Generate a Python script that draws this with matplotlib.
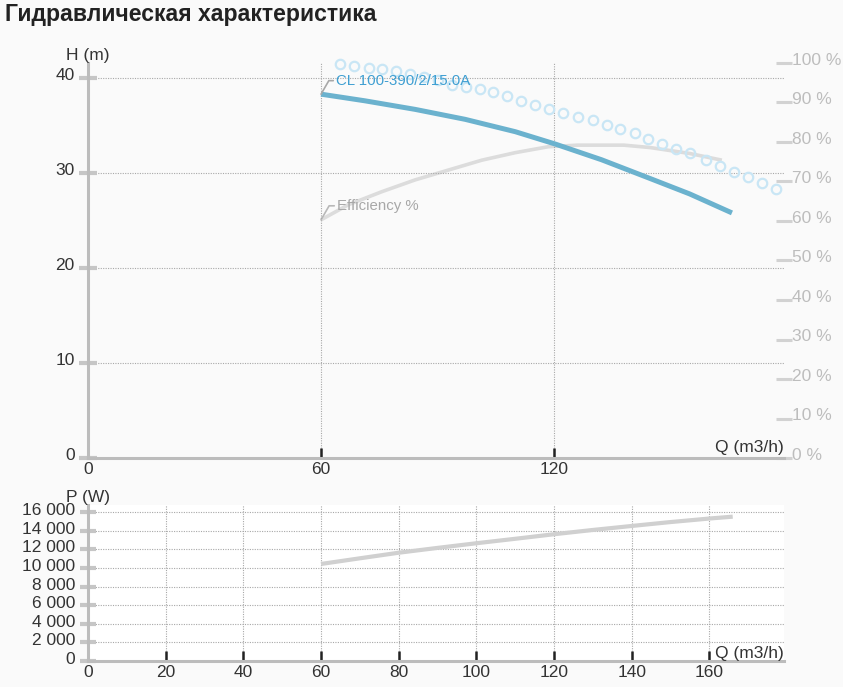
import matplotlib
matplotlib.use("Agg")
import matplotlib.pyplot as plt
from matplotlib.ticker import FixedLocator, FuncFormatter
from matplotlib.transforms import offset_copy

plt.rcParams['font.family'] = ['Liberation Sans', 'DejaVu Sans']

# ---------------- data ----------------
title = "Гидравлическая характеристика"
pump_name = "CL 100-390/2/15.0A"
eff_name = "Efficiency %"

q_head = [60, 71.3, 84.2, 97.1, 110, 120.3, 132.2, 143.6, 154.9, 165.8]
head = [38.3, 37.6, 36.7, 35.65, 34.35, 33.05, 31.4, 29.6, 27.8, 25.8]

q_eff = [60, 67, 75.6, 84.2, 92.8, 101.4, 110, 118.5, 126, 138, 144.7, 154.9, 163.2]
eff = [60.3, 64.1, 67.4, 70.4, 72.9, 75.4, 77.3, 78.8, 79.2, 79.2, 78.6, 77.1, 75.4]

q_circ = [64.9, 68.5, 72.3, 75.8, 79.3, 82.9, 86.5, 90.1, 93.7, 97.3, 101.0, 104.4,
          108.0, 111.6, 115.2, 118.8, 122.4, 126.1, 129.9, 133.6, 137.1, 140.8,
          144.3, 147.9, 151.5, 155.1, 159.1, 162.7, 166.3, 169.9, 173.5, 177.1]
h_circ = [41.47, 41.26, 41.05, 40.92, 40.71, 40.44, 40.11, 39.74, 39.29, 39.08,
          38.84, 38.49, 38.13, 37.54, 37.17, 36.76, 36.33, 35.94, 35.56, 35.09,
          34.6, 34.25, 33.55, 33.04, 32.56, 32.14, 31.36, 30.76, 30.08, 29.59,
          28.99, 28.29]

q_pow = [60, 70, 80, 90, 100, 110, 120, 130, 140, 150, 160, 166]
power = [10440, 11050, 11650, 12170, 12670, 13150, 13640, 14100, 14530, 14950, 15330, 15530]

h_ticks = [0, 10, 20, 30, 40]
q_ticks_top = [0, 60, 120]
pct_ticks = [0, 10, 20, 30, 40, 50, 60, 70, 80, 90, 100]
p_ticks = [0, 2000, 4000, 6000, 8000, 10000, 12000, 14000, 16000]
q_ticks_bot = [0, 20, 40, 60, 80, 100, 120, 140, 160]

# ---------------- layout ----------------
W, H = 843, 687
fig = plt.figure(figsize=(W / 100, H / 100), dpi=100, facecolor='#fafafa')


def rect(x0, y0, x1, y1):
    return [x0 / W, 1 - y1 / H, (x1 - x0) / W, (y1 - y0) / H]


FS = 12.5
AX_GRAY = '#bcbcbc'
GRID = dict(color='#a8a8a8', linestyle=(0, (1, 1.2)), linewidth=0.8)

fig.text(5 / W, 1 - 15 / H, title, fontsize=16.6, fontweight='bold',
         color='#222222', ha='left', va='center')

# ---------------- top chart ----------------
ax = fig.add_axes(rect(88, 63, 784, 458))
ax2 = ax.twinx()
ax.set_zorder(ax2.get_zorder() + 1)
ax.patch.set_visible(False)
ax2.patch.set_facecolor('white')

ax.set_xlim(0, 179.2)
ax.set_ylim(0, 41.58)
ax2.set_ylim(0, 100)

for s in ['top', 'right']:
    ax.spines[s].set_visible(False)
for s in ax2.spines.values():
    s.set_visible(False)
ax.spines['left'].set_color(AX_GRAY)
ax.spines['left'].set_linewidth(2.2)
ax.spines['bottom'].set_color(AX_GRAY)
ax.spines['bottom'].set_linewidth(2.2)

ax.xaxis.set_major_locator(FixedLocator(q_ticks_top))
ax.yaxis.set_major_locator(FixedLocator(h_ticks))
ax.grid(True, **GRID)
ax.set_axisbelow(True)

ax.tick_params(axis='y', direction='inout', length=13, width=3, color='#c6c6c6',
               labelsize=FS, labelcolor='#333333', pad=3)
ax.tick_params(axis='x', direction='in', length=7, width=1.8, color='#222222',
               labelsize=FS, labelcolor='#333333', pad=3)
for lab in ax.get_yticklabels():
    lab.set_transform(offset_copy(lab.get_transform(), fig=fig, y=4, units='dots'))

ax2.yaxis.set_major_locator(FixedLocator(pct_ticks))
ax2.yaxis.set_major_formatter(FuncFormatter(lambda v, p: f"{int(v)} %"))
ax2.tick_params(axis='y', direction='inout', length=11.5, width=2.2, color='#d2d2d2',
                labelsize=FS, labelcolor='#bdbdbd', pad=0)
for lab in ax2.get_yticklabels():
    lab.set_transform(offset_copy(lab.get_transform(), fig=fig, y=4, units='dots'))

ax2.plot(q_eff, eff, color='#dcdcdc', lw=2.6, solid_capstyle='butt', zorder=2)
ax.plot(q_circ, h_circ, linestyle='none', marker='o', markersize=6.8,
        markerfacecolor='none', markeredgecolor='#c9e6f5', markeredgewidth=1.6,
        clip_on=False, zorder=2)
ax.plot(q_head, head, color='#6bb2ce', lw=3.6, solid_capstyle='butt', zorder=3)

ax.annotate(pump_name, xy=(q_head[0], head[0]), xytext=(15, 13.5),
            textcoords='offset pixels', ha='left', va='center', fontsize=10.8,
            color='#3f9fd2', annotation_clip=False,
            arrowprops=dict(arrowstyle='-', color='#a8a8a8', lw=1.2, shrinkA=0,
                            shrinkB=0, relpos=(0, 0.5),
                            connectionstyle='angle,angleA=0,angleB=60,rad=0'))
ax2.annotate(eff_name, xy=(q_eff[0], eff[0]), xytext=(16, 14),
             textcoords='offset pixels', ha='left', va='center', fontsize=10.8,
             color='#a8a8a8', annotation_clip=False,
             arrowprops=dict(arrowstyle='-', color='#b8b8b8', lw=1.2, shrinkA=0,
                             shrinkB=0, relpos=(0, 0.5),
                             connectionstyle='angle,angleA=0,angleB=60,rad=0'))

ax.text(0, 1.0, "H (m)", transform=ax.transAxes, ha='center', va='bottom',
        fontsize=FS, color='#333333')
ax.text(1.0, 0.0, "Q (m3/h)", transform=offset_copy(ax.transAxes, fig=fig, y=3, units='dots'),
        ha='right', va='bottom', fontsize=FS, color='#333333')

# ---------------- bottom chart ----------------
bx = fig.add_axes(rect(88, 505, 784, 661))
bx.set_facecolor('white')
bx.set_xlim(0, 179.2)
bx.set_ylim(0, 16785)
for s in ['top', 'right']:
    bx.spines[s].set_visible(False)
bx.spines['left'].set_color(AX_GRAY)
bx.spines['left'].set_linewidth(2.2)
bx.spines['bottom'].set_color(AX_GRAY)
bx.spines['bottom'].set_linewidth(2.2)
bx.xaxis.set_major_locator(FixedLocator(q_ticks_bot))
bx.yaxis.set_major_locator(FixedLocator(p_ticks))
bx.yaxis.set_major_formatter(FuncFormatter(lambda v, p: f"{int(v):,}".replace(',', ' ')))
bx.grid(True, **GRID)
bx.set_axisbelow(True)
bx.tick_params(axis='y', direction='inout', length=12, width=3, color='#c6c6c6',
               labelsize=FS, labelcolor='#333333', pad=3)
bx.tick_params(axis='x', direction='in', length=7, width=1.8, color='#222222',
               labelsize=FS, labelcolor='#333333', pad=3)
for lab in bx.get_yticklabels():
    lab.set_transform(offset_copy(lab.get_transform(), fig=fig, y=3, units='dots'))

bx.plot(q_pow, power, color='#d0d0d0', lw=3.0, solid_capstyle='butt')

bx.text(0, 1.0, "P (W)", transform=bx.transAxes, ha='center', va='bottom',
        fontsize=FS, color='#333333')
bx.text(1.0, 0.0, "Q (m3/h)", transform=bx.transAxes,
        ha='right', va='bottom', fontsize=FS, color='#333333')

fig.savefig("out.png", dpi=100, facecolor=fig.get_facecolor())
